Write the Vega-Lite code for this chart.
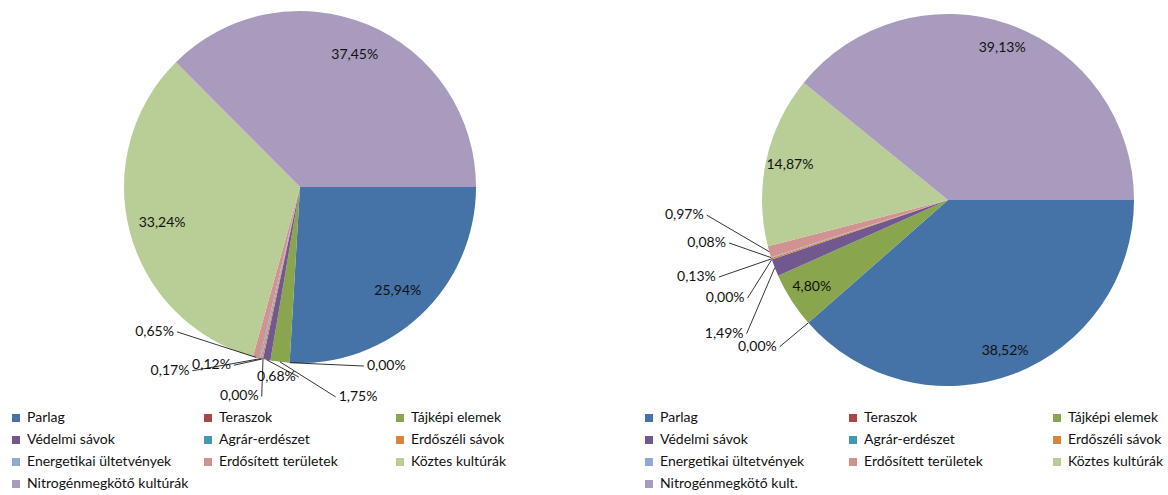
{
  "$schema": "https://vega.github.io/schema/vega-lite/v6.json",
  "padding": {"left": 9, "top": 0, "right": 0, "bottom": 0},
  "background": "white",
  "spacing": 62,
  "config": {
    "view": {"stroke": null},
    "font": "Lato",
    "legend": {
      "orient": "bottom",
      "columns": 3,
      "symbolType": "square",
      "symbolSize": 64,
      "symbolStrokeWidth": 0,
      "labelFont": "Lato",
      "labelFontSize": 14,
      "labelColor": "#111",
      "labelLimit": 300,
      "gridAlign": "all",
      "columnPadding": 12,
      "rowPadding": 8,
      "offset": 4
    }
  },
  "resolve": {"scale": {"color": "independent"}},
  "datasets": {
    "d": [
      {"panel": "A", "kategoria": "Parlag", "value": 25.94},
      {"panel": "A", "kategoria": "Teraszok", "value": 0.00},
      {"panel": "A", "kategoria": "Tájképi elemek", "value": 1.75},
      {"panel": "A", "kategoria": "Védelmi sávok", "value": 0.68},
      {"panel": "A", "kategoria": "Agrár-erdészet", "value": 0.00},
      {"panel": "A", "kategoria": "Erdőszéli sávok", "value": 0.12},
      {"panel": "A", "kategoria": "Energetikai ültetvények", "value": 0.17},
      {"panel": "A", "kategoria": "Erdősített területek", "value": 0.65},
      {"panel": "A", "kategoria": "Köztes kultúrák", "value": 33.24},
      {"panel": "A", "kategoria": "Nitrogénmegkötő kultúrák", "value": 37.45},
      {"panel": "B", "kategoria": "Parlag", "value": 38.52},
      {"panel": "B", "kategoria": "Teraszok", "value": 0.00},
      {"panel": "B", "kategoria": "Tájképi elemek", "value": 4.80},
      {"panel": "B", "kategoria": "Védelmi sávok", "value": 1.49},
      {"panel": "B", "kategoria": "Agrár-erdészet", "value": 0.00},
      {"panel": "B", "kategoria": "Erdőszéli sávok", "value": 0.13},
      {"panel": "B", "kategoria": "Energetikai ültetvények", "value": 0.08},
      {"panel": "B", "kategoria": "Erdősített területek", "value": 0.97},
      {"panel": "B", "kategoria": "Köztes kultúrák", "value": 14.87},
      {"panel": "B", "kategoria": "Nitrogénmegkötő kult.", "value": 39.13}
    ]
  },
  "hconcat": [
    {
      "width": 571,
      "height": 407,
      "data": {"name": "d"},
      "transform": [
        {"filter": "datum.panel == 'A'"},
        {"window": [{"op": "row_number", "as": "idx"}]},
        {"joinaggregate": [{"op": "sum", "field": "value", "as": "total"}]},
        {"window": [{"op": "sum", "field": "value", "as": "cum"}], "sort": [{"field": "idx"}], "frame": [null, 0]},
        {"calculate": "100 * (datum.cum - datum.value) / datum.total", "as": "s0"},
        {"calculate": "100 * datum.cum / datum.total", "as": "s1"},
        {"calculate": "PI / 2 + 2 * PI * (datum.cum - datum.value / 2) / datum.total", "as": "a"},
        {"calculate": "datum.value < 3 ? 'small' : 'big'", "as": "grp"},
        {"window": [{"op": "row_number", "as": "k"}, {"op": "count", "as": "n"}, {"op": "mean", "field": "a", "as": "ac"}], "groupby": ["grp"], "sort": [{"field": "idx"}], "frame": [null, null]},
        {"calculate": "datum.ac + (datum.k - 1 - (datum.n - 1) / 2) * 10 * PI / 180", "as": "la"},
        {"calculate": "1.08 + 0.13 * ((datum.k - 1) % 2)", "as": "lr"},
        {"calculate": "0.81 * sin(datum.a)", "as": "bx"},
        {"calculate": "0.81 * cos(datum.a)", "as": "by"},
        {"calculate": "sin(datum.a)", "as": "ex"},
        {"calculate": "cos(datum.a)", "as": "ey"},
        {"calculate": "datum.lr * sin(datum.la)", "as": "lx"},
        {"calculate": "datum.lr * cos(datum.la)", "as": "ly"},
        {"calculate": "replace(format(datum.value, '.2f'), '.', ',') + '%'", "as": "lab"}
      ],
      "layer": [
        {
          "mark": {"type": "arc", "outerRadius": 176, "stroke": null},
          "encoding": {
            "x": {"datum": 0, "type": "quantitative", "scale": {"domain": [-1.6534, 1.5909], "nice": false, "zero": false}, "axis": null},
            "y": {"datum": 0, "type": "quantitative", "scale": {"domain": [-1.25, 1.0625], "nice": false, "zero": false}, "axis": null},
            "theta": {"field": "s0", "type": "quantitative", "stack": null, "scale": {"domain": [0, 100], "range": [1.5707963, 7.8539816]}},
            "theta2": {"field": "s1"},
            "color": {
              "field": "kategoria", "type": "nominal",
              "scale": {
                "domain": ["Parlag", "Teraszok", "Tájképi elemek", "Védelmi sávok", "Agrár-erdészet", "Erdőszéli sávok", "Energetikai ültetvények", "Erdősített területek", "Köztes kultúrák", "Nitrogénmegkötő kultúrák"],
                "range": ["#4572A7", "#AA4643", "#89A54E", "#71588F", "#4198AF", "#DB843D", "#93A9CF", "#D19392", "#B9CD96", "#A99BBD"]
              },
              "legend": {"title": null}
            }
          }
        },
        {
          "transform": [{"filter": "datum.grp == 'small'"}],
          "mark": {"type": "rule", "color": "#000", "strokeWidth": 0.8},
          "encoding": {
            "x": {"field": "ex", "type": "quantitative", "scale": {"domain": [-1.6534, 1.5909], "nice": false, "zero": false}, "axis": null},
            "y": {"field": "ey", "type": "quantitative", "scale": {"domain": [-1.25, 1.0625], "nice": false, "zero": false}, "axis": null},
            "x2": {"field": "lx"},
            "y2": {"field": "ly"}
          }
        },
        {
          "transform": [{"filter": "datum.grp == 'small' && sin(datum.la) < 0"}],
          "mark": {"type": "text", "align": "right", "baseline": "middle", "dx": -3, "fontSize": 14, "color": "#111"},
          "encoding": {
            "x": {"field": "lx", "type": "quantitative", "scale": {"domain": [-1.6534, 1.5909], "nice": false, "zero": false}, "axis": null},
            "y": {"field": "ly", "type": "quantitative", "scale": {"domain": [-1.25, 1.0625], "nice": false, "zero": false}, "axis": null},
            "text": {"field": "lab"}
          }
        },
        {
          "transform": [{"filter": "datum.grp == 'small' && sin(datum.la) >= 0"}],
          "mark": {"type": "text", "align": "left", "baseline": "middle", "dx": 3, "fontSize": 14, "color": "#111"},
          "encoding": {
            "x": {"field": "lx", "type": "quantitative", "scale": {"domain": [-1.6534, 1.5909], "nice": false, "zero": false}, "axis": null},
            "y": {"field": "ly", "type": "quantitative", "scale": {"domain": [-1.25, 1.0625], "nice": false, "zero": false}, "axis": null},
            "text": {"field": "lab"}
          }
        },
        {
          "transform": [{"filter": "datum.grp == 'big'"}],
          "mark": {"type": "text", "align": "center", "baseline": "middle", "fontSize": 14, "color": "#111"},
          "encoding": {
            "x": {"field": "bx", "type": "quantitative", "scale": {"domain": [-1.6534, 1.5909], "nice": false, "zero": false}, "axis": null},
            "y": {"field": "by", "type": "quantitative", "scale": {"domain": [-1.25, 1.0625], "nice": false, "zero": false}, "axis": null},
            "text": {"field": "lab"}
          }
        }
      ]
    },
    {
      "width": 526,
      "height": 407,
      "data": {"name": "d"},
      "transform": [
        {"filter": "datum.panel == 'B'"},
        {"window": [{"op": "row_number", "as": "idx"}]},
        {"joinaggregate": [{"op": "sum", "field": "value", "as": "total"}]},
        {"window": [{"op": "sum", "field": "value", "as": "cum"}], "sort": [{"field": "idx"}], "frame": [null, 0]},
        {"calculate": "100 * (datum.cum - datum.value) / datum.total", "as": "s0"},
        {"calculate": "100 * datum.cum / datum.total", "as": "s1"},
        {"calculate": "PI / 2 + 2 * PI * (datum.cum - datum.value / 2) / datum.total", "as": "a"},
        {"calculate": "datum.value < 3 ? 'small' : 'big'", "as": "grp"},
        {"window": [{"op": "row_number", "as": "k"}, {"op": "count", "as": "n"}, {"op": "mean", "field": "a", "as": "ac"}], "groupby": ["grp"], "sort": [{"field": "idx"}], "frame": [null, null]},
        {"calculate": "datum.ac + (datum.k - 1 - (datum.n - 1) / 2) * 7.5 * PI / 180", "as": "la"},
        {"calculate": "1.2 + 0.1 * ((datum.k - 1) % 2)", "as": "lr"},
        {"calculate": "0.87 * sin(datum.a)", "as": "bx"},
        {"calculate": "0.87 * cos(datum.a)", "as": "by"},
        {"calculate": "sin(datum.a)", "as": "ex"},
        {"calculate": "cos(datum.a)", "as": "ey"},
        {"calculate": "datum.lr * sin(datum.la)", "as": "lx"},
        {"calculate": "datum.lr * cos(datum.la)", "as": "ly"},
        {"calculate": "replace(format(datum.value, '.2f'), '.', ',') + '%'", "as": "lab"}
      ],
      "layer": [
        {
          "mark": {"type": "arc", "outerRadius": 186, "stroke": null},
          "encoding": {
            "x": {"datum": 0, "type": "quantitative", "scale": {"domain": [-1.6452, 1.1828], "nice": false, "zero": false}, "axis": null},
            "y": {"datum": 0, "type": "quantitative", "scale": {"domain": [-1.1129, 1.0753], "nice": false, "zero": false}, "axis": null},
            "theta": {"field": "s0", "type": "quantitative", "stack": null, "scale": {"domain": [0, 100], "range": [1.5707963, 7.8539816]}},
            "theta2": {"field": "s1"},
            "color": {
              "field": "kategoria", "type": "nominal",
              "scale": {
                "domain": ["Parlag", "Teraszok", "Tájképi elemek", "Védelmi sávok", "Agrár-erdészet", "Erdőszéli sávok", "Energetikai ültetvények", "Erdősített területek", "Köztes kultúrák", "Nitrogénmegkötő kult."],
                "range": ["#4572A7", "#AA4643", "#89A54E", "#71588F", "#4198AF", "#DB843D", "#93A9CF", "#D19392", "#B9CD96", "#A99BBD"]
              },
              "legend": {"title": null, "columnPadding": 41}
            }
          }
        },
        {
          "transform": [{"filter": "datum.grp == 'small'"}],
          "mark": {"type": "rule", "color": "#000", "strokeWidth": 0.8},
          "encoding": {
            "x": {"field": "ex", "type": "quantitative", "scale": {"domain": [-1.6452, 1.1828], "nice": false, "zero": false}, "axis": null},
            "y": {"field": "ey", "type": "quantitative", "scale": {"domain": [-1.1129, 1.0753], "nice": false, "zero": false}, "axis": null},
            "x2": {"field": "lx"},
            "y2": {"field": "ly"}
          }
        },
        {
          "transform": [{"filter": "datum.grp == 'small' && sin(datum.la) < 0"}],
          "mark": {"type": "text", "align": "right", "baseline": "middle", "dx": -3, "fontSize": 14, "color": "#111"},
          "encoding": {
            "x": {"field": "lx", "type": "quantitative", "scale": {"domain": [-1.6452, 1.1828], "nice": false, "zero": false}, "axis": null},
            "y": {"field": "ly", "type": "quantitative", "scale": {"domain": [-1.1129, 1.0753], "nice": false, "zero": false}, "axis": null},
            "text": {"field": "lab"}
          }
        },
        {
          "transform": [{"filter": "datum.grp == 'small' && sin(datum.la) >= 0"}],
          "mark": {"type": "text", "align": "left", "baseline": "middle", "dx": 3, "fontSize": 14, "color": "#111"},
          "encoding": {
            "x": {"field": "lx", "type": "quantitative", "scale": {"domain": [-1.6452, 1.1828], "nice": false, "zero": false}, "axis": null},
            "y": {"field": "ly", "type": "quantitative", "scale": {"domain": [-1.1129, 1.0753], "nice": false, "zero": false}, "axis": null},
            "text": {"field": "lab"}
          }
        },
        {
          "transform": [{"filter": "datum.grp == 'big'"}],
          "mark": {"type": "text", "align": "center", "baseline": "middle", "fontSize": 14, "color": "#111"},
          "encoding": {
            "x": {"field": "bx", "type": "quantitative", "scale": {"domain": [-1.6452, 1.1828], "nice": false, "zero": false}, "axis": null},
            "y": {"field": "by", "type": "quantitative", "scale": {"domain": [-1.1129, 1.0753], "nice": false, "zero": false}, "axis": null},
            "text": {"field": "lab"}
          }
        }
      ]
    }
  ]
}
